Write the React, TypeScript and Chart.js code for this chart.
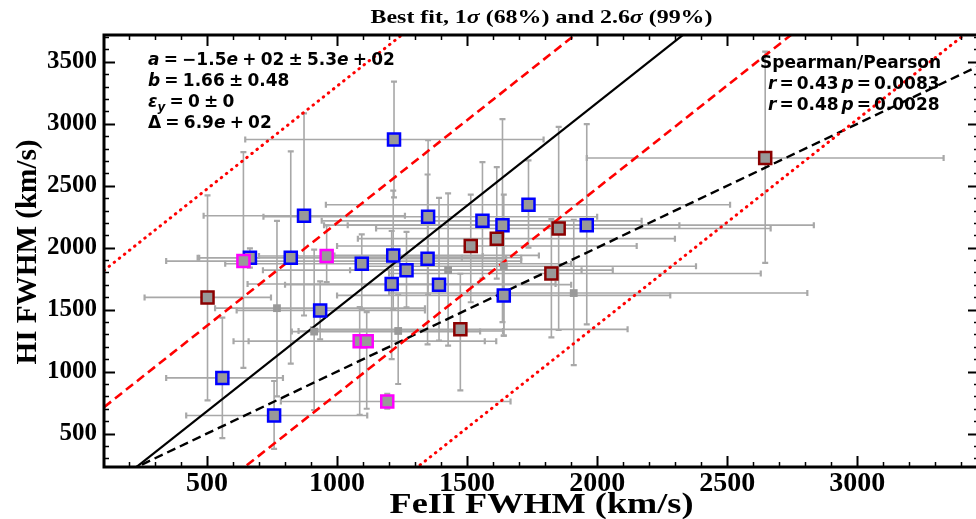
import React, { useEffect, useRef } from 'react';
import { Chart, registerables } from 'chart.js';

Chart.register(...registerables);

// ---------- axis ranges & ticks ----------
const X_MIN = 104;
const X_MAX = 3468;
const Y_MIN = 230;
const Y_MAX = 3717;
const MAJOR_STEP = 500;
const MINOR_STEP = 100;
const X_TICKS = [500, 1000, 1500, 2000, 2500, 3000];
const Y_TICKS = [500, 1000, 1500, 2000, 2500, 3000, 3500];

// ---------- fit parameters ----------
const FIT_A = -150;
const FIT_B = 1.66;
const FIT_DELTA = 690;
const SIGMA_WIDE = 2.6;

// ---------- data: blue-edged points ----------
const blueX = [559, 665, 822, 1095, 1216, 1210, 873, 1219, 935, 1350, 1736, 1559, 1636, 1960, 1348, 1267, 1392, 1641, 758];
const blueY = [949, 1919, 1919, 1870, 1938, 1707, 2258, 2873, 1494, 2250, 2347, 2217, 2182, 2182, 1911, 1819, 1702, 1615, 646];
const blueXLo = [343, 464, 470, 570, 990, 656, 487, 647, 614, 717, 957, 941, 950, 1041, 1088, 715, 800, 1000, 420];
const blueXHi = [792, 1708, 1480, 1900, 1776, 1840, 1261, 1794, 1338, 2000, 2511, 2171, 2316, 2833, 1650, 2060, 1900, 2281, 1116];
const blueYLo = [463, 1840, 1065, 1500, 1500, 1100, 1453, 2406, 1260, 1620, 2000, 1750, 1400, 1382, 1219, 1518, 1250, 1290, 377];
const blueYHi = [1436, 1995, 2778, 2108, 2461, 2135, 3085, 3341, 1729, 2868, 2705, 2691, 3038, 2998, 2591, 2128, 2402, 2160, 924];

// ---------- data: magenta-edged points ----------
const magX = [640, 960, 1087, 1114, 1193];
const magY = [1892, 1933, 1245, 1245, 759];
const magXLo = [343, 700, 602, 660, 784];
const magXHi = [1708, 1560, 1568, 1612, 1667];
const magYLo = [1030, 1723, 650, 700, 700];
const magYHi = [2772, 2180, 1520, 1480, 820];

// ---------- data: dark-red-edged points ----------
const redX = [502, 1852, 1514, 1614, 1824, 1474, 2646];
const redY = [1599, 2155, 2014, 2073, 1792, 1341, 2724];
const redXLo = [260, 1150, 1000, 1080, 1200, 900, 1960];
const redXHi = [746, 2667, 2152, 2299, 2629, 2117, 3332];
const redYLo = [767, 1336, 1560, 1750, 1276, 849, 1878];
const redYHi = [2423, 2976, 2428, 2650, 2230, 1790, 3583];

// ---------- data: plain grey points ----------
const greyX = [769, 1427, 1641, 1910, 912, 1235];
const greyY = [1512, 1819, 1851, 1634, 1323, 1328];
const greyXLo = [531, 1050, 1100, 1200, 826, 852];
const greyXHi = [1338, 1940, 2380, 2808, 1550, 1638];
const greyYLo = [800, 1209, 1290, 1052, 690, 900];
const greyYHi = [2217, 2439, 2428, 2225, 1984, 1620];

// ---------- text ----------
const TITLE = [
  { t: 'Best fit, 1' },
  { t: 'σ', i: true },
  { t: ' (68%) and 2.6' },
  { t: 'σ', i: true },
  { t: ' (99%)' },
];
const X_LABEL = 'FeII FWHM (km/s)';
const Y_LABEL = 'HI FWHM (km/s)';
const FIT_LINES = [
  [{ t: 'a', i: true }, { t: ' = −1.5' }, { t: 'e', i: true }, { t: ' + 02 ± 5.3' }, { t: 'e', i: true }, { t: ' + 02' }],
  [{ t: 'b', i: true }, { t: ' = 1.66 ± 0.48' }],
  [{ t: 'ε', i: true }, { t: 'y', i: true, sub: true }, { t: ' = 0 ± 0' }],
  [{ t: 'Δ = 6.9' }, { t: 'e', i: true }, { t: ' + 02' }],
];
const CORR_LINES = [
  [{ t: 'Spearman/Pearson' }],
  [{ t: 'r', i: true }, { t: ' = 0.43 ' }, { t: 'p', i: true }, { t: ' = 0.0083' }],
  [{ t: 'r', i: true }, { t: ' = 0.48 ' }, { t: 'p', i: true }, { t: ' = 0.0028' }],
];

const GROUPS = [
  { x: greyX, y: greyY, xlo: greyXLo, xhi: greyXHi, ylo: greyYLo, yhi: greyYHi, edge: 'rgba(0,0,0,0)', r: 5.5, bw: 0 },
  { x: blueX, y: blueY, xlo: blueXLo, xhi: blueXHi, ylo: blueYLo, yhi: blueYHi, edge: '#0000ff', r: 8.5, bw: 2.5 },
  { x: magX, y: magY, xlo: magXLo, xhi: magXHi, ylo: magYLo, yhi: magYHi, edge: '#ff00ff', r: 8.5, bw: 2.5 },
  { x: redX, y: redY, xlo: redXLo, xhi: redXHi, ylo: redYLo, yhi: redYHi, edge: '#8b0000', r: 8.5, bw: 2.5 },
];

type Seg = { t: string; i?: boolean; sub?: boolean };

function segFont(s: Seg, size: number, family: string) {
  const sz = s.sub ? Math.round(size * 0.7) : size;
  return `${s.i ? 'italic ' : ''}bold ${sz}px ${family}`;
}

// draws a run of mixed-style text; spaces get a fixed advance (spaceW) if given
function drawRich(
  ctx: CanvasRenderingContext2D,
  segs: Seg[],
  x: number,
  y: number,
  size: number,
  family: string,
  align: 'left' | 'center',
  targetWidth?: number,
  spaceW?: number
) {
  type Piece = { txt: string; font: string; w: number; dy: number };
  const pieces: Piece[] = [];
  segs.forEach((s) => {
    const font = segFont(s, size, family);
    ctx.font = font;
    const dy = s.sub ? size * 0.3 : 0;
    if (spaceW === undefined) {
      pieces.push({ txt: s.t, font, w: ctx.measureText(s.t).width, dy });
    } else {
      const toks = s.t.split(' ');
      toks.forEach((tk, k) => {
        if (k > 0) pieces.push({ txt: '', font, w: spaceW, dy });
        if (tk) pieces.push({ txt: tk, font, w: ctx.measureText(tk).width, dy });
      });
    }
  });
  const w = pieces.reduce((a, p) => a + p.w, 0);
  const sx = targetWidth ? targetWidth / w : 1;
  ctx.save();
  ctx.translate(x, y);
  ctx.scale(sx, 1);
  let cx = align === 'center' ? -w / 2 : 0;
  ctx.textBaseline = 'middle';
  ctx.textAlign = 'left';
  ctx.fillStyle = '#000';
  pieces.forEach((p) => {
    if (p.txt) {
      ctx.font = p.font;
      ctx.fillText(p.txt, cx, p.dy);
    }
    cx += p.w;
  });
  ctx.restore();
}

const errorBarPlugin = {
  id: 'errorBars',
  beforeDatasetsDraw(chart: any) {
    const { ctx, chartArea, scales } = chart;
    const xs = scales.x;
    const ys = scales.y;
    ctx.save();
    ctx.beginPath();
    ctx.rect(chartArea.left, chartArea.top, chartArea.right - chartArea.left, chartArea.bottom - chartArea.top);
    ctx.clip();
    ctx.strokeStyle = '#a8a8a8';
    GROUPS.forEach((g) => {
      g.x.forEach((xv, i) => {
        const px = xs.getPixelForValue(xv);
        const py = ys.getPixelForValue(g.y[i]);
        const x1 = xs.getPixelForValue(g.xlo[i]);
        const x2 = xs.getPixelForValue(g.xhi[i]);
        const y1 = ys.getPixelForValue(g.ylo[i]);
        const y2 = ys.getPixelForValue(g.yhi[i]);
        ctx.lineWidth = 1.6;
        ctx.beginPath();
        ctx.moveTo(x1, py);
        ctx.lineTo(x2, py);
        ctx.moveTo(px, y1);
        ctx.lineTo(px, y2);
        ctx.stroke();
        ctx.lineWidth = 2.2;
        ctx.beginPath();
        ctx.moveTo(x1, py - 3);
        ctx.lineTo(x1, py + 3);
        ctx.moveTo(x2, py - 3);
        ctx.lineTo(x2, py + 3);
        ctx.moveTo(px - 3, y1);
        ctx.lineTo(px + 3, y1);
        ctx.moveTo(px - 3, y2);
        ctx.lineTo(px + 3, y2);
        ctx.stroke();
      });
    });
    ctx.restore();
  },
};

const framePlugin = {
  id: 'frame',
  afterDraw(chart: any) {
    const { ctx, chartArea, scales } = chart;
    const { left, right, top, bottom } = chartArea;
    const xs = scales.x;
    const ys = scales.y;
    ctx.save();
    ctx.strokeStyle = '#000';
    ctx.lineCap = 'butt';
    for (let v = Math.ceil(X_MIN / MINOR_STEP) * MINOR_STEP; v <= X_MAX; v += MINOR_STEP) {
      const px = Math.round(xs.getPixelForValue(v)) + 0.5;
      const major = v % MAJOR_STEP === 0;
      const len = major ? 11 : 5;
      ctx.lineWidth = major ? 2 : 1.5;
      ctx.beginPath();
      ctx.moveTo(px, bottom);
      ctx.lineTo(px, bottom - len);
      ctx.moveTo(px, top);
      ctx.lineTo(px, top + len);
      ctx.stroke();
    }
    for (let v = Math.ceil(Y_MIN / MINOR_STEP) * MINOR_STEP; v <= Y_MAX; v += MINOR_STEP) {
      const py = Math.round(ys.getPixelForValue(v)) + 0.5;
      const major = v % MAJOR_STEP === 0;
      const len = major ? 11 : 5;
      ctx.lineWidth = major ? 2 : 1.5;
      ctx.beginPath();
      ctx.moveTo(left, py);
      ctx.lineTo(left + len, py);
      ctx.moveTo(right, py);
      ctx.lineTo(right - len, py);
      ctx.stroke();
    }
    ctx.lineWidth = 3;
    ctx.strokeRect(left, top, right - left, bottom - top);

    const serif = '"Liberation Serif", "Times New Roman", serif';
    const sans = '"DejaVu Sans", sans-serif';
    drawRich(ctx, TITLE, (left + right) / 2, 18, 19, serif, 'center', 342);
    drawRich(ctx, [{ t: X_LABEL }], (left + right) / 2, 505, 30, serif, 'center', 304);
    ctx.save();
    ctx.translate(28, 252);
    ctx.rotate(-Math.PI / 2);
    drawRich(ctx, [{ t: Y_LABEL }], 0, 0, 30, serif, 'center', 225);
    ctx.restore();
    FIT_LINES.forEach((segs, k) => {
      drawRich(ctx, segs, 148, 61 + k * 21, 17, sans, 'left', undefined, 4.2);
    });
    drawRich(ctx, CORR_LINES[0], 760, 64, 17, sans, 'left');
    drawRich(ctx, CORR_LINES[1], 768, 85, 17, sans, 'left', undefined, 3);
    drawRich(ctx, CORR_LINES[2], 768, 106, 17, sans, 'left', undefined, 3);
    ctx.restore();
  },
};

function lineDataset(k: number, color: string, dash: number[], width: number, cap: CanvasLineCap) {
  const f = (x: number) => FIT_A + FIT_B * x + k * FIT_DELTA;
  return {
    type: 'line' as const,
    data: [
      { x: X_MIN, y: f(X_MIN) },
      { x: X_MAX, y: f(X_MAX) },
    ],
    borderColor: color,
    borderWidth: width,
    borderDash: dash,
    borderCapStyle: cap,
    pointRadius: 0,
    showLine: true,
    fill: false,
    order: 10,
  };
}

export default function App() {
  const ref = useRef<HTMLCanvasElement | null>(null);
  useEffect(() => {
    if (!ref.current) return;
    const datasets: any[] = [
      lineDataset(SIGMA_WIDE, '#ff0000', [0.5, 6], 3, 'round'),
      lineDataset(-SIGMA_WIDE, '#ff0000', [0.5, 6], 3, 'round'),
      lineDataset(1, '#ff0000', [9, 5], 2.6, 'butt'),
      lineDataset(-1, '#ff0000', [9, 5], 2.6, 'butt'),
      lineDataset(0, '#000000', [], 2.2, 'butt'),
      {
        type: 'line',
        data: [
          { x: X_MIN, y: X_MIN },
          { x: X_MAX, y: X_MAX },
        ],
        borderColor: '#000000',
        borderWidth: 2.4,
        borderDash: [9, 5],
        pointRadius: 0,
        showLine: true,
        fill: false,
        order: 10,
      },
      ...GROUPS.map((g, gi) => ({
        type: 'scatter',
        data: g.x.map((xv, i) => ({ x: xv, y: g.y[i] })),
        pointStyle: 'rect',
        pointRadius: g.r,
        borderWidth: g.bw,
        borderColor: g.edge,
        backgroundColor: '#999999',
        order: 5 - gi,
      })),
    ];
    const chart = new Chart(ref.current, {
      type: 'scatter',
      data: { datasets },
      options: {
        responsive: false,
        animation: false,
        devicePixelRatio: 1,
        layout: { padding: { top: 35, right: 8, left: 0, bottom: 0 } },
        plugins: {
          legend: { display: false },
          tooltip: { enabled: false },
          title: { display: false },
        },
        scales: {
          x: {
            type: 'linear',
            min: X_MIN,
            max: X_MAX,
            grid: { display: false, drawTicks: false },
            border: { display: false },
            afterBuildTicks: (s: any) => {
              s.ticks = X_TICKS.map((v) => ({ value: v }));
            },
            ticks: {
              autoSkip: false,
              maxRotation: 0,
              padding: 0,
              color: '#000',
              font: { family: '"Liberation Serif", serif', weight: 'bold', size: 28 },
              callback: (v: any) => String(v),
            },
            afterFit: (s: any) => {
              s.height = 52;
            },
          },
          y: {
            type: 'linear',
            min: Y_MIN,
            max: Y_MAX,
            grid: { display: false, drawTicks: false },
            border: { display: false },
            afterBuildTicks: (s: any) => {
              s.ticks = Y_TICKS.map((v) => ({ value: v }));
            },
            ticks: {
              autoSkip: false,
              padding: 7,
              color: '#000',
              font: { family: '"Liberation Serif", serif', weight: 'bold', size: 25 },
              callback: (v: any) => String(v),
            },
            afterFit: (s: any) => {
              s.width = 104;
            },
          },
        },
      },
      plugins: [errorBarPlugin, framePlugin],
    } as any);
    return () => chart.destroy();
  }, []);
  return (
    <div
      style={{
        position: 'fixed',
        left: 0,
        top: 0,
        width: 976,
        height: 519,
        overflow: 'hidden',
        background: '#fff',
      }}
    >
      <canvas ref={ref} width={990} height={519} style={{ display: 'block' }} />
    </div>
  );
}
